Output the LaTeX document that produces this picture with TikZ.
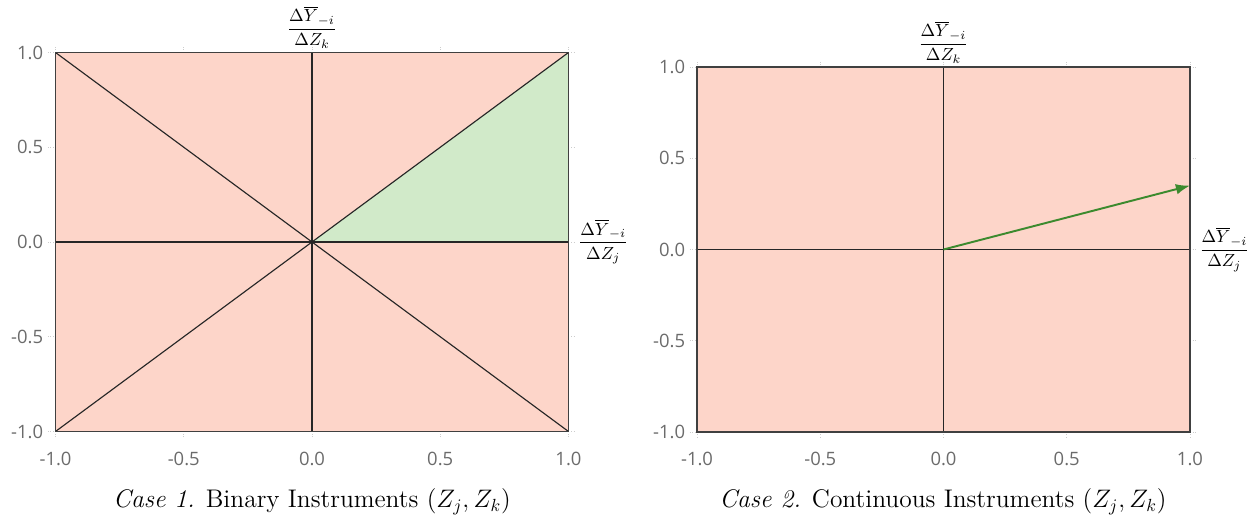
\documentclass[tikz,border=0pt]{standalone}
\usepackage{amsmath}
\usepackage{fontspec}
\newfontfamily\tickfont{Open Sans}
\usetikzlibrary{arrows.meta,positioning}

\definecolor{regionred}{HTML}{FDD5C9}
\definecolor{regiongreen}{HTML}{D1EAC9}
\definecolor{arrowgreen}{HTML}{3C8A2E}
\definecolor{ticktext}{HTML}{6B6B6B}

\begin{document}
\begin{tikzpicture}[
    x={(0.02cm,0)}, y={(0,-0.02cm)},
    axisline/.style={line width=0.65pt, draw=black!85},
    frameline/.style={line width=0.65pt, draw=black!75},
    gridtick/.style={densely dotted, draw=black!20, line width=0.5pt},
    ticklabel/.style={font=\tickfont\fontsize{10.5}{12}\selectfont, text=ticktext, inner sep=1pt},
    axislabel/.style={font=\normalsize, inner sep=1pt},
    caption/.style={font=\fontsize{14.5}{17}\selectfont, inner sep=0pt},
    >={Latex[length=8pt,width=6pt]}
  ]
  \useasboundingbox (0,0) rectangle (1250,523);

  % Case 1: binary instruments
  \begin{scope}[shift={(312,242)}, x={(5.13cm,0)}, y={(0,3.79cm)}]
    \fill[regionred] (-1,-1) rectangle (1,1);
    \fill[regiongreen] (0,0) -- (1,1) -- (1,0) -- cycle;
    \foreach \t in {-1,-0.5,0,0.5,1} {
      \draw[gridtick] (-1.03,\t) -- (-1,\t);
      \draw[gridtick] (\t,-1.03) -- (\t,-1);
      \draw[gridtick] (\t,1) -- (\t,1.03);
      \draw[gridtick] (1,\t) -- (1.03,\t);
    }
    \draw[axisline] (-1,1) -- (1,-1);
    \draw[axisline] (-1,-1) -- (1,1);
    \draw[axisline] (-1,0) -- (1,0);
    \draw[axisline] (0,-1) -- (0,1);
    \draw[frameline] (-1,-1) rectangle (1,1);
    \foreach \t/\lab in {-1/-1.0,-0.5/-0.5,0/0.0,0.5/0.5,1/1.0} {
      \node[ticklabel, anchor=east] at (-1.04,\t) {\lab};
      \node[ticklabel, anchor=north] at (\t,-1.1) {\lab};
    }
    \node[axislabel, anchor=south] (ka) at (0,1.01) {$\dfrac{\Delta\overline{Y}_{-i}}{\Delta Z_k}$};
    \node[axislabel, anchor=west] (ja) at (1.03,0) {$\dfrac{\Delta\overline{Y}_{-i}}{\Delta Z_j}$};
  \end{scope}
  \node[caption] (capa) at (312,502) {\textit{Case 1.} Binary Instruments $(Z_j, Z_k)$};

  % Case 2: continuous instruments
  \begin{scope}[shift={(943.5,249.5)}, x={(4.93cm,0)}, y={(0,3.65cm)}]
    \fill[regionred] (-1,-1) rectangle (1,1);
    \foreach \t in {-1,-0.5,0,0.5,1} {
      \draw[gridtick] (-1.03,\t) -- (-1,\t);
      \draw[gridtick] (\t,-1.03) -- (\t,-1);
      \draw[gridtick] (\t,1) -- (\t,1.03);
      \draw[gridtick] (1,\t) -- (1.03,\t);
    }
    \draw[axisline] (-1,0) -- (1,0);
    \draw[axisline] (0,-1) -- (0,1);
    \draw[frameline] (-1,-1) rectangle (1,1);
    \coordinate (orig) at (0,0);
    \coordinate (tip) at (1,0.35);
    \draw[->, draw=arrowgreen, fill=arrowgreen, line width=1.1pt] (orig) -- (tip);
    \foreach \t/\lab in {-1/-1.0,-0.5/-0.5,0/0.0,0.5/0.5,1/1.0} {
      \node[ticklabel, anchor=east] at (-1.04,\t) {\lab};
      \node[ticklabel, anchor=north] at (\t,-1.1) {\lab};
    }
    \node[axislabel, anchor=south] (kb) at (0,1.01) {$\dfrac{\Delta\overline{Y}_{-i}}{\Delta Z_k}$};
    \node[axislabel, anchor=west] (jb) at (1.03,0) {$\dfrac{\Delta\overline{Y}_{-i}}{\Delta Z_j}$};
  \end{scope}
  \node[caption] (capb) at (943,502) {\textit{Case 2.} Continuous Instruments $(Z_j, Z_k)$};
\end{tikzpicture}
\end{document}
